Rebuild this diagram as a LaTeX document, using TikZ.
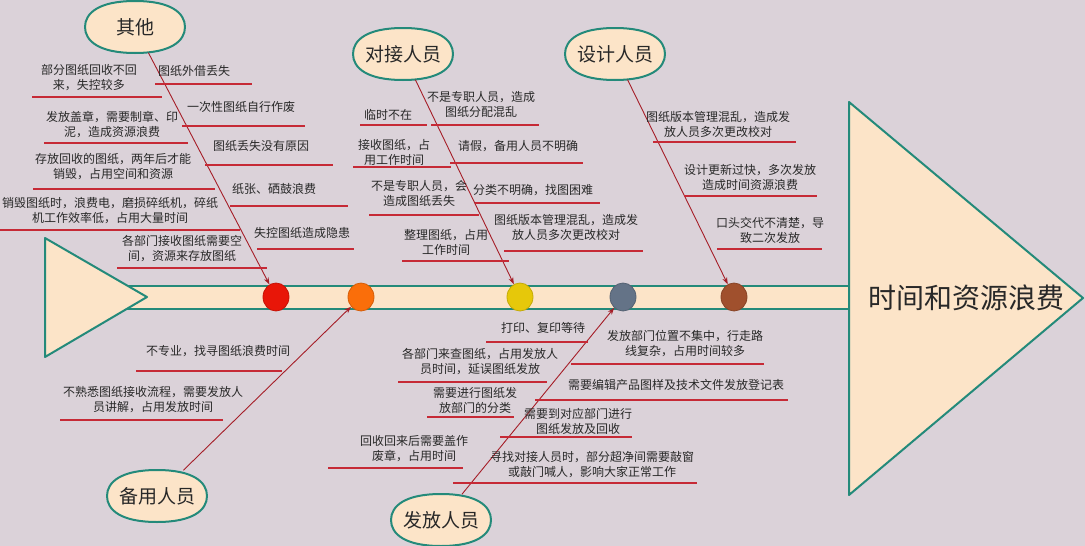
\documentclass[tikz,border=0pt]{standalone}
\usepackage{fontspec}
\setmainfont{Noto Sans CJK SC}
\usetikzlibrary{arrows.meta,shapes.geometric}
\definecolor{bgc}{RGB}{219,210,217}
\definecolor{fbteal}{RGB}{36,138,122}
\definecolor{peach}{RGB}{252,228,200}
\definecolor{ulred}{RGB}{198,42,54}
\definecolor{arrred}{RGB}{165,30,40}
\definecolor{txtc}{RGB}{40,40,40}
\definecolor{cred}{RGB}{232,22,8}
\definecolor{corange}{RGB}{250,110,10}
\definecolor{cyellow}{RGB}{230,200,10}
\definecolor{cgrey}{RGB}{100,115,135}
\definecolor{cbrown}{RGB}{160,80,45}
\newcommand\flab[4]{\node[lab] (#1) at (#2,#3) {#4};}
\newcommand\fuline[3]{\draw[ulline] (#1,#3) -- (#2,#3);}
\newcommand\headnode[4]{%
  \path[shp] (#2-50,#3) .. controls (#2-50,#3-14) and (#2-36,#3-26) .. (#2,#3-26)
    .. controls (#2+36,#3-26) and (#2+50,#3-14) .. (#2+50,#3)
    .. controls (#2+50,#3+14) and (#2+36,#3+26) .. (#2,#3+26)
    .. controls (#2-36,#3+26) and (#2-50,#3+14) .. cycle;
  \node[head] (#1) at (#2,#3) {#4};}
\begin{document}
\begin{tikzpicture}[x=1pt,y=-1pt,
  shp/.style={draw=fbteal,line width=2pt,fill=peach,line join=round},
  head/.style={rectangle,minimum width=100pt,minimum height=51pt,inner sep=0pt,font=\fontsize{19}{22}\selectfont,text=txtc},
  dot/.style={ellipse,minimum width=26pt,minimum height=28pt,inner sep=0pt,line width=0.8pt},
  lab/.style={align=center,inner sep=0pt,font=\fontsize{12}{15}\selectfont,text=txtc},
  ulline/.style={draw=ulred,line width=2.2pt},
  arr/.style={draw=arrred,line width=0.9pt,-{Stealth[length=7pt,width=5pt]}}]
\fill[bgc] (0,0) rectangle (1085,546);
\useasboundingbox (0,0) rectangle (1085,546);
% spine
\draw[shp] (100,286) rectangle (850,309);
\draw[shp] (45,238) -- (147,297) -- (45,357) -- cycle;
\draw[shp] (849,102) -- (1083,298) -- (849,495) -- cycle;
\node[font=\fontsize{28}{32}\selectfont,text=txtc] (effect) at (966,298) {时间和资源浪费};
% dots
\node[dot,fill=cred,draw=cred!85!black] (c1) at (276,297) {};
\node[dot,fill=corange,draw=corange!85!black] (c2) at (361,297) {};
\node[dot,fill=cyellow,draw=cyellow!85!black] (c3) at (520,297) {};
\node[dot,fill=cgrey,draw=cgrey!85!black] (c4) at (623,297) {};
\node[dot,fill=cbrown,draw=cbrown!85!black] (c5) at (734,297) {};
% heads
\headnode{qita}{135}{27}{其他}
\headnode{duijie}{403}{54}{对接人员}
\headnode{sheji}{615}{54}{设计人员}
\headnode{beiyong}{157}{496}{备用人员}
\headnode{fafang}{441}{520}{发放人员}
% arrows
\draw[arr] (qita) -- (c1);
\draw[arr] (duijie) -- (c3);
\draw[arr] (sheji) -- (c5);
\draw[arr] (beiyong) -- (c2);
\draw[arr] (fafang) -- (c4);
% labels: 其他
\flab{l1}{89}{77.5}{部分图纸回收不回\\来，失控较多}\fuline{32}{162}{97}
\flab{l2}{112}{124.5}{发放盖章，需要制章、印\\泥，造成资源浪费}\fuline{44}{188}{143}
\flab{l3}{113}{166.5}{存放回收的图纸，两年后才能\\销毁，占用空间和资源}\fuline{33}{215}{189}
\flab{l4}{110}{210.5}{销毁图纸时，浪费电，磨损碎纸机，碎纸\\机工作效率低，占用大量时间}\fuline{0}{240}{230}
\flab{l5}{182}{249}{各部门接收图纸需要空\\间，资源来存放图纸}\fuline{117}{267}{268}
\flab{l6}{194}{71}{图纸外借丢失}\fuline{155}{252}{84}
\flab{l7}{241}{107}{一次性图纸自行作废}\fuline{182}{305}{126}
\flab{l8}{261}{146}{图纸丢失没有原因}\fuline{205}{333}{165}
\flab{l9}{274}{189}{纸张、硒鼓浪费}\fuline{230}{348}{206}
\flab{l10}{302}{233}{失控图纸造成隐患}\fuline{257}{354}{249}
% 对接人员
\flab{l11}{388}{115}{临时不在}\fuline{360}{427}{125}
\flab{l12}{394}{152.5}{接收图纸，占\\用工作时间}\fuline{353}{451}{167}
\flab{l13}{419}{193}{不是专职人员，会\\造成图纸丢失}\fuline{369}{479}{215}
\flab{l14}{446}{242.5}{整理图纸，占用\\工作时间}\fuline{402}{509}{261}
\flab{l15}{481}{104.5}{不是专职人员，造成\\图纸分配混乱}\fuline{431}{539}{125}
\flab{l16}{518}{146}{请假，备用人员不明确}\fuline{450}{583}{163}
\flab{l17}{533}{190}{分类不明确，找图困难}\fuline{475}{600}{203}
\flab{l18}{566}{227.5}{图纸版本管理混乱，造成发\\放人员多次更改校对}\fuline{504}{643}{251}
% 设计人员
\flab{l19}{718}{124.5}{图纸版本管理混乱，造成发\\放人员多次更改校对}\fuline{653}{796}{142}
\flab{l20}{750}{177.5}{设计更新过快，多次发放\\造成时间资源浪费}\fuline{684}{817}{196}
\flab{l21}{770}{230}{口头交代不清楚，导\\致二次发放}\fuline{717}{822}{249}
% 备用人员
\flab{l22}{218}{351}{不专业，找寻图纸浪费时间}\fuline{136}{282}{371}
\flab{l23}{153}{399.5}{不熟悉图纸接收流程，需要发放人\\员讲解，占用发放时间}\fuline{60}{223}{420}
% 发放人员
\flab{l24}{543}{328}{打印、复印等待}\fuline{486}{588}{342}
\flab{l25}{480}{362}{各部门来查图纸，占用发放人\\员时间，延误图纸发放}\fuline{398}{547}{382}
\flab{l26}{475}{400.5}{需要进行图纸发\\放部门的分类}\fuline{427}{514}{417}
\flab{l27}{414}{448.5}{回收回来后需要盖作\\废章，占用时间}\fuline{328}{463}{468}
\flab{l28}{685}{343.5}{发放部门位置不集中，行走路\\线复杂，占用时间较多}\fuline{571}{764}{364}
\flab{l29}{676}{385}{需要编辑产品图样及技术文件发放登记表}\fuline{535}{788}{400}
\flab{l30}{578}{421}{需要到对应部门进行\\图纸发放及回收}\fuline{500}{632}{437}
\flab{l31}{592}{465}{寻找对接人员时，部分超净间需要敲窗\\或敲门喊人，影响大家正常工作}\fuline{453}{697}{483}
\end{tikzpicture}
\end{document}
